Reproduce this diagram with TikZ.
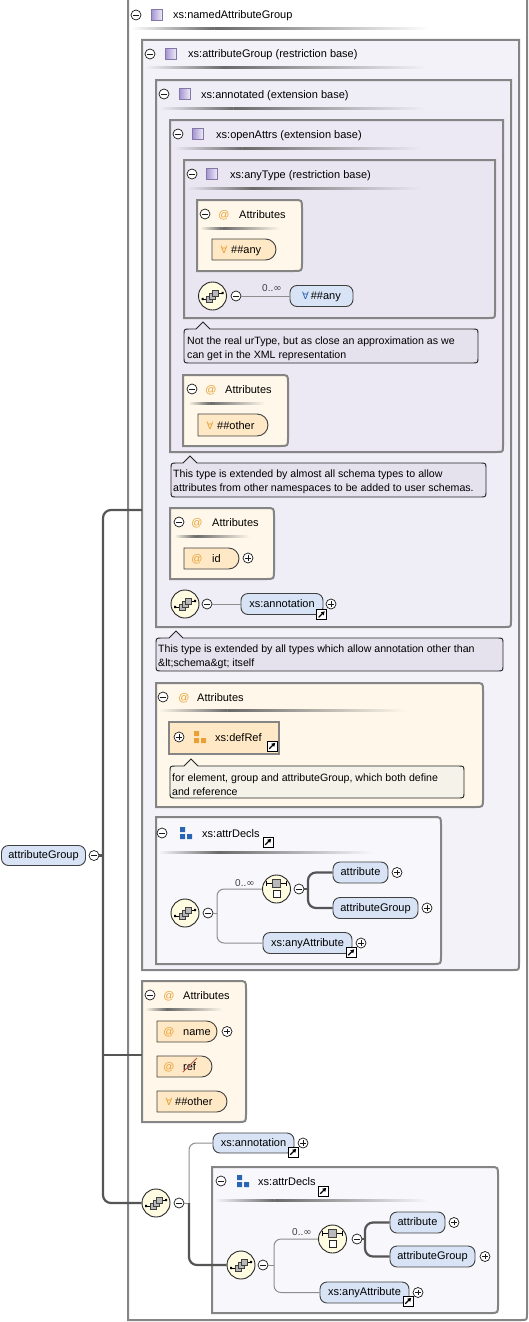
\documentclass[tikz,border=0pt]{standalone}
\usepackage{fontspec}
\setmainfont{Liberation Sans}
\newfontfamily\dejavu{DejaVu Sans}
\usetikzlibrary{shapes.misc,arrows.meta}
\definecolor{bord}{HTML}{858585}
\definecolor{bA}{HTML}{FFFFFF}
\definecolor{bB}{HTML}{F4F2F9}
\definecolor{bC}{HTML}{EFEDF6}
\definecolor{bD}{HTML}{ECE9F4}
\definecolor{bE}{HTML}{E9E6F2}
\definecolor{attrbg}{HTML}{FFF8EA}
\definecolor{attrc}{HTML}{FFE8C6}
\definecolor{elemc}{HTML}{D8E4F6}
\definecolor{callbg}{HTML}{E5E1ED}
\definecolor{callbgb}{HTML}{F5F2EA}
\definecolor{declbg}{HTML}{F8F8FC}
\definecolor{compc}{HTML}{FFFCE2}
\definecolor{thinc}{HTML}{8E8E8E}
\definecolor{thickc}{HTML}{555555}
\definecolor{orangec}{HTML}{E9A135}
\definecolor{bluec}{HTML}{2A64B4}
\definecolor{purpc}{HTML}{A495D2}
\definecolor{strikec}{HTML}{B8584A}
\definecolor{sepc}{HTML}{6A6A6A}
\tikzset{
  boxline/.style={draw=bord, line width=2pt},
  lbl/.style={anchor=base west, inner sep=0pt},
  callt/.style={anchor=base west, inner sep=0pt, font=\fontsize{10.6}{13}\selectfont},
  clbl/.style={anchor=base, inner sep=0pt},
  symb/.style={anchor=base, inner sep=0pt, font=\dejavu\fontsize{10}{12}\selectfont},
  cnt/.style={anchor=base west, inner sep=0pt, font=\fontsize{10}{12}\selectfont, text=black!75},
  circbase/.style={circle, draw=black!90, fill=white, line width=0.7pt, minimum size=10pt, inner sep=0pt},
  minusc/.style={circbase, path picture={\draw[line width=0.8pt] ([xshift=-2.7pt]path picture bounding box.center) -- ([xshift=2.7pt]path picture bounding box.center);}},
  plusc/.style={circbase, path picture={\draw[line width=0.8pt] ([xshift=-2.7pt]path picture bounding box.center) -- ([xshift=2.7pt]path picture bounding box.center) ([yshift=-2.7pt]path picture bounding box.center) -- ([yshift=2.7pt]path picture bounding box.center);}},
  shortc/.style={rectangle, draw=black, fill=white, line width=0.7pt, minimum size=10pt, inner sep=0pt, path picture={\draw[line width=1.2pt, -{Triangle[length=3.6pt,width=4pt]}] ([shift={(-2.8pt,-2.8pt)}]path picture bounding box.center) -- ([shift={(3.2pt,3.2pt)}]path picture bounding box.center);}},
  elem/.style={rectangle, rounded corners=7pt, draw=black!75, fill=elemc, line width=0.9pt, inner sep=0pt, text height=8pt, text depth=2pt},
  attrn/.style={rounded rectangle, rounded rectangle left arc=none, draw=black!75, fill=attrc, line width=0.9pt, inner sep=0pt},
  comp/.style={circle, draw=black!85, fill=compc, line width=0.9pt, minimum size=28pt, inner sep=0pt},
  thinl/.style={draw=thinc, line width=1pt, rounded corners=7pt},
  thickl/.style={draw=thickc, line width=2.2pt, rounded corners=8pt},
}
\newcommand\mytbox[5]{\draw[boxline,fill=#5] (#1,#2) -- (#3,#2) -- (#3,#4-6) .. controls (#3,#4) .. (#3-6,#4) -- (#1,#4) -- cycle;}
\newcommand\myrbox[5]{\draw[boxline,fill=#5] (#1,#2) -- (#3-8,#2) .. controls (#3,#2) .. (#3,#2+8) -- (#3,#4-8) .. controls (#3,#4) .. (#3-8,#4) -- (#1,#4) -- cycle;}
\newcommand\mycallout[6]{\draw[draw=black!85,line width=0.9pt,fill=#6] (#1,#2+6) .. controls (#1,#2) .. (#1+6,#2) -- (#5-7,#2) -- (#5,#2-7) -- (#5+7,#2) -- (#3-6,#2) .. controls (#3,#2) .. (#3,#2+6) -- (#3,#4-6) .. controls (#3,#4) .. (#3-6,#4) -- (#1+6,#4) .. controls (#1,#4) .. (#1,#4-6) -- cycle;}
\newcommand\mysep[4]{\shade[left color=#4,right color=sepc] (#1,#3-1) rectangle ({#1+0.28*(#2-#1)},#3+1);\shade[left color=sepc,right color=#4] ({#1+0.28*(#2-#1)},#3-1) rectangle (#2,#3+1);}
\newcommand\mytitle[6]{\node[minusc] (#1m) at (#2,#5) {};
 \shadedraw[draw=purpc!80!black,line width=0.6pt,left color=purpc,right color=purpc!15] (#3-5.5,#5-5.5) rectangle (#3+5.5,#5+5.5);
 \node[lbl] (#1t) at (#4,#5+4) {#6};}
\newcommand\myattrhead[5]{\node[minusc] (#1m) at (#2,#5) {};
 \node[clbl,text=orangec] (#1at) at (#3,#5+4) {@};
 \node[lbl] (#1t) at (#4,#5+4) {Attributes};}
\newcommand\myblocks[3]{\fill[#3] (#1,#2-6) rectangle (#1+5,#2-1) (#1,#2+1) rectangle (#1+5,#2+6) (#1+7,#2+1) rectangle (#1+12,#2+6);}
\newcommand\myseq[1]{\begin{scope}[shift={(#1.center)}]
 \draw[line width=0.9pt] (-10,3) -- (-5,3) (5,-3) -- (10,-3);
 \fill (-11,1.8) rectangle (-9,4.2) (9,-4.2) rectangle (11,-1.8);
 \draw[fill=gray!55,draw=black!75,line width=0.5pt] (-6,0) rectangle (0,6);
 \draw[fill=gray!55,draw=black!75,line width=0.5pt] (-3,-3) rectangle (3,3);
 \draw[fill=gray!55,draw=black!75,line width=0.5pt] (0,-6) rectangle (6,0);
\end{scope}}
\newcommand\mychoice[1]{\begin{scope}[shift={(#1.center)}]
 \draw[line width=0.9pt] (-10,-6) -- (10,-6) (-10,-8.5) -- (-10,-3.5) (10,-8.5) -- (10,-3.5);
 \draw[fill=gray!55,draw=black!75,line width=0.6pt] (-4,-10) rectangle (4,-2);
 \draw[fill=white,draw=black!85,line width=0.6pt] (-3.5,1) rectangle (3.5,8);
\end{scope}}
\begin{document}
\begin{tikzpicture}[x=1pt,y=-1pt,font=\fontsize{11}{13}\selectfont]
\useasboundingbox (0,0) rectangle (529,1322);
% type boxes
\mytbox{128}{-5}{527}{1320}{bA}
\mytbox{142}{40}{519}{970}{bB}
\mytbox{156}{80}{511}{627}{bC}
\mytbox{170}{120}{503}{452}{bD}
\mytbox{184}{160}{495}{318}{bE}
\mysep{131}{430}{29}{bA}
\mysep{145}{427}{68}{bB}
\mysep{159}{425}{108}{bC}
\mysep{173}{421}{148}{bD}
\mysep{187}{420}{188}{bE}
\mytitle{tA}{136}{157}{173}{15}{xs:namedAttributeGroup}
\mytitle{tB}{150}{171}{188}{54}{xs:attributeGroup (restriction base)}
\mytitle{tC}{164}{185}{201}{94}{xs:annotated (extension base)}
\mytitle{tD}{178}{198}{216}{134}{xs:openAttrs (extension base)}
\mytitle{tE}{192}{212}{230}{174}{xs:anyType (restriction base)}
% anyType attributes
\myrbox{197}{200}{302}{271}{attrbg}
\mysep{200}{280}{228}{attrbg}
\myattrhead{aA}{205}{224}{239}{214}
\node[attrn,minimum width=64pt,minimum height=21pt] (wA) at (244,249.5) {};
\node[symb,text=orangec] (wAs) at (224,253.5) {∀};
\node[lbl] (wAt) at (231,253.5) {\#\#any};
% anyType sequence
\node[comp] (sA) at (212.5,296) {};
\myseq{sA}
\node[minusc] (sAm) at (236,296) {};
\node[elem,minimum width=63pt,minimum height=21pt] (eA) at (321.5,296) {{\dejavu\fontsize{10}{12}\selectfont\color{bluec}∀}\,\#\#any};
\draw[thinl] (sAm.east) -- (eA.west);
\node[cnt] (rA) at (262,291) {0..{\dejavu ∞}};
% callout 1
\mycallout{184}{329}{478}{363}{203}{callbg}
\node[callt] (cAa) at (187,344) {Not the real urType, but as close an approximation as we};
\node[callt] (cAb) at (187,358) {can get in the XML representation};
% openAttrs attributes
\myrbox{183}{375}{288}{446}{attrbg}
\mysep{188}{265}{403}{attrbg}
\myattrhead{aB}{192}{211}{225}{389}
\node[attrn,minimum width=70pt,minimum height=22pt] (wB) at (233,425) {};
\node[symb,text=orangec] (wBs) at (210,429) {∀};
\node[lbl] (wBt) at (217,429) {\#\#other};
% callout 2
\mycallout{171}{463}{486}{497}{190}{callbg}
\node[callt] (cBa) at (173,477) {This type is extended by almost all schema types to allow};
\node[callt] (cBb) at (173,491) {attributes from other namespaces to be added to user schemas.};
% annotated attributes
\myrbox{170}{508}{274}{579}{attrbg}
\mysep{174}{250}{536}{attrbg}
\myattrhead{aC}{179}{197}{212}{522}
\node[attrn,minimum width=55pt,minimum height=21pt] (idn) at (211.5,558.5) {};
\node[clbl,text=orangec] (idat) at (197,562.5) {@};
\node[lbl] (idt) at (212,562.5) {id};
\node[plusc] (idp) at (248,558) {};
% annotated sequence
\node[comp] (sB) at (185,604) {};
\myseq{sB}
\node[minusc] (sBm) at (207,604) {};
\node[elem,minimum width=82pt,minimum height=21pt] (eB) at (282,604) {xs:annotation};
\node[shortc] (eBs) at (321.5,614.5) {};
\node[plusc] (eBp) at (331,604) {};
\draw[thinl] (sBm.east) -- (eB.west);
% callout 3
\mycallout{156}{638}{503}{671}{176}{callbg}
\node[callt] (cCa) at (158,652) {This type is extended by all types which allow annotation other than};
\node[callt] (cCb) at (158,666) {\&lt;schema\&gt; itself};
% attributeGroup attributes
\myrbox{156}{683}{483}{807}{attrbg}
\mysep{158}{407}{710}{attrbg}
\myattrhead{aD}{163}{184}{197}{697}
\node[rectangle,draw=bord,line width=1.6pt,fill=attrc,minimum width=110pt,minimum height=32pt,inner sep=0pt] (dr) at (224,738) {};
\node[plusc] (drp) at (179,737) {};
\myblocks{194}{737}{orangec}
\node[lbl] (drt) at (215,741) {xs:defRef};
\node[shortc] (drs) at (272,746) {};
\mycallout{170}{766}{464}{798}{191}{callbgb}
\node[callt] (cDa) at (172,781) {for element, group and attributeGroup, which both define};
\node[callt] (cDb) at (172,795) {and reference};
% attrDecls 1
\myrbox{156}{817}{441}{964}{declbg}
\mysep{158}{373}{852}{declbg}
\node[minusc] (dAm) at (162,833) {};
\myblocks{180}{833}{bluec}
\node[lbl] (dAt) at (202,837) {xs:attrDecls};
\node[shortc] (dAs) at (268,842) {};
\coordinate (jA) at (217,913);
\coordinate (jB) at (308,889);
\node[comp] (sC) at (185,913) {};
\myseq{sC}
\node[minusc] (sCm) at (208,913) {};
\node[comp] (chA) at (276.5,889) {};
\mychoice{chA}
\node[minusc] (chAm) at (299,889) {};
\node[elem,minimum width=55pt,minimum height=21pt] (atA) at (360.5,872.5) {attribute};
\node[plusc] (atAp) at (397,872.5) {};
\node[elem,minimum width=85pt,minimum height=21pt] (agA) at (375.5,908) {attributeGroup};
\node[plusc] (agAp) at (427,908) {};
\node[elem,minimum width=89pt,minimum height=21pt] (anA) at (307.5,943) {xs:anyAttribute};
\node[shortc] (anAs) at (351,952.5) {};
\node[plusc] (anAp) at (361,943) {};
\draw[thinl] (sCm.east) -- (jA);
\draw[thinl] (jA) |- (chA.west);
\draw[thinl] (jA) |- (anA.west);
\draw[thickl] (chAm.east) -- (jB);
\draw[thickl] (jB) |- (atA.west);
\draw[thickl] (jB) |- (agA.west);
\node[cnt] (rB) at (235,886) {0..{\dejavu ∞}};
% namedAttributeGroup attributes
\myrbox{142}{981}{246}{1122}{attrbg}
\mysep{145}{223}{1009}{attrbg}
\myattrhead{aE}{150}{169}{183}{995}
\node[attrn,minimum width=60pt,minimum height=21pt] (nm) at (187,1031.5) {};
\node[clbl,text=orangec] (nmat) at (169,1035.5) {@};
\node[lbl] (nmt) at (183,1035.5) {name};
\node[plusc] (nmp) at (227,1031.5) {};
\node[attrn,minimum width=55pt,minimum height=21pt] (rf) at (184.5,1066.5) {};
\node[clbl,text=orangec] (rfat) at (169,1070.5) {@};
\node[lbl] (rft) at (183,1070.5) {ref};
\draw[strikec,line width=1pt] (183,1072) -- (197,1058);
\node[attrn,minimum width=70pt,minimum height=21pt] (wC) at (192,1101.5) {};
\node[symb,text=orangec] (wCs) at (169,1105.5) {∀};
\node[lbl] (wCt) at (175,1105.5) {\#\#other};
% attrDecls 2 box
\myrbox{212}{1167}{498}{1313}{declbg}
\mysep{215}{428}{1200}{declbg}
% root and spine
\node[elem,minimum width=84pt,minimum height=20pt] (ag) at (43.5,855.5) {attributeGroup};
\node[minusc] (agm) at (94,855.5) {};
\coordinate (bBin) at (142,510);
\coordinate (aEin) at (142,1055);
\coordinate (spA) at (103,855.5);
\coordinate (spB) at (103,1055);
\coordinate (jC) at (189,1203);
\node[comp] (sD) at (156,1203) {};
\node[comp] (sE) at (241,1265) {};
\draw[thickl] (bBin) -| (spA) |- (sD.west);
\draw[thickl] (agm.east) -- (spA);
\draw[thickl] (spB) -- (aEin);
\myseq{sD}
\node[minusc] (sDm) at (179,1203) {};
\node[elem,minimum width=81pt,minimum height=20pt] (eC) at (253.5,1143) {xs:annotation};
\node[shortc] (eCs) at (293,1152) {};
\node[plusc] (eCp) at (303,1143) {};
\draw[thinl] (sDm.east) -- (jC);
\draw[thinl] (jC) |- (eC.west);
\draw[thickl] (jC) |- (sE.west);
% attrDecls 2 content
\node[minusc] (dBm) at (221,1181) {};
\myblocks{237}{1181}{bluec}
\node[lbl] (dBt) at (258,1185) {xs:attrDecls};
\node[shortc] (dBs) at (323,1191) {};
\myseq{sE}
\node[minusc] (sEm) at (263,1265) {};
\node[comp] (chB) at (332.5,1239) {};
\mychoice{chB}
\node[minusc] (chBm) at (357,1239) {};
\node[elem,minimum width=55pt,minimum height=21pt] (atB) at (417.5,1222.5) {attribute};
\node[plusc] (atBp) at (454,1222.5) {};
\node[elem,minimum width=85pt,minimum height=21pt] (agB) at (432.5,1256.5) {attributeGroup};
\node[plusc] (agBp) at (485,1256.5) {};
\node[elem,minimum width=89pt,minimum height=21pt] (anB) at (364.5,1292.5) {xs:anyAttribute};
\node[shortc] (anBs) at (408,1301) {};
\node[plusc] (anBp) at (418,1292.5) {};
\coordinate (jD) at (274,1265);
\coordinate (jE) at (365,1239);
\draw[thinl] (sEm.east) -- (jD);
\draw[thinl] (jD) |- (chB.west);
\draw[thinl] (jD) |- (anB.west);
\draw[thickl] (chBm.east) -- (jE);
\draw[thickl] (jE) |- (atB.west);
\draw[thickl] (jE) |- (agB.west);
\node[cnt] (rC) at (292,1235) {0..{\dejavu ∞}};
\end{tikzpicture}
\end{document}
